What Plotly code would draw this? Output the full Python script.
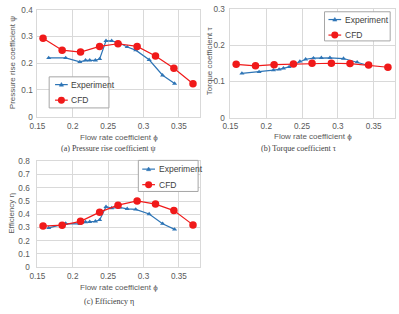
import plotly.graph_objects as go

# ---------------- data ----------------
phi_exp = [0.166, 0.190, 0.210, 0.218, 0.224, 0.232, 0.238, 0.247, 0.255, 0.266,
           0.277, 0.289, 0.308, 0.327, 0.344]
phi_cfd = [0.158, 0.185, 0.211, 0.238, 0.264, 0.291, 0.317, 0.343, 0.370]

psi_exp = [0.220, 0.220, 0.205, 0.211, 0.211, 0.211, 0.216, 0.284, 0.284, 0.276,
           0.261, 0.249, 0.213, 0.155, 0.124]
psi_cfd = [0.294, 0.249, 0.242, 0.263, 0.273, 0.263, 0.227, 0.181, 0.123]

tau_exp = [0.122, 0.126, 0.131, 0.133, 0.136, 0.140, 0.146, 0.155, 0.161, 0.164,
           0.165, 0.165, 0.163, 0.153, 0.143]
tau_cfd = [0.147, 0.143, 0.146, 0.148, 0.150, 0.150, 0.149, 0.145, 0.139]

eta_exp = [0.297, 0.330, 0.327, 0.341, 0.343, 0.347, 0.357, 0.457, 0.447, 0.452,
           0.441, 0.437, 0.402, 0.329, 0.286]
eta_cfd = [0.311, 0.318, 0.347, 0.416, 0.469, 0.501, 0.477, 0.428, 0.320]

series_names = ["Experiment", "CFD"]
x_title = "Flow rate coefficient ϕ"
y_titles = ["Pressure rise coefficient ψ", "Torque coefficient τ", "Efficiency η"]
captions = ["(a) Pressure rise coefficient ψ", "(b) Torque coefficient τ", "(c) Efficiency η"]
y_ranges = [[0, 0.4], [0, 0.3], [0, 0.8]]
x_range = [0.15, 0.38]

# ---------------- styles ----------------
W, H = 399, 314
BLUE = "#2E75B6"
RED = "#F01A1A"
GRID = "#D9D9D9"
TXT = "#595959"
FONT = "Liberation Sans, Arial, sans-serif"


def px(x):
    return x / W


def py(y):
    return 1 - y / H


fig = go.Figure()

panels = [
    dict(xa="x", ya="y", yexp=psi_exp, ycfd=psi_cfd,
         xdom=[px(30), px(196)], ydom=[py(116), py(6)], standoff=2),
    dict(xa="x2", ya="y2", yexp=tau_exp, ycfd=tau_cfd,
         xdom=[px(227), px(395)], ydom=[py(117), py(5)], standoff=3),
    dict(xa="x3", ya="y3", yexp=eta_exp, ycfd=eta_cfd,
         xdom=[px(30), px(196)], ydom=[py(271), py(162)], standoff=5),
]

for p in panels:
    fig.add_trace(go.Scatter(x=phi_exp, y=p["yexp"], xaxis=p["xa"], yaxis=p["ya"],
                             mode="lines+markers", name=series_names[0], showlegend=False,
                             line=dict(color=BLUE, width=1.2),
                             marker=dict(symbol="triangle-up", size=4.5, color=BLUE)))
    fig.add_trace(go.Scatter(x=phi_cfd, y=p["ycfd"], xaxis=p["xa"], yaxis=p["ya"],
                             mode="lines+markers", name=series_names[1], showlegend=False,
                             line=dict(color=RED, width=1.2),
                             marker=dict(symbol="circle", size=7.5, color=RED)))

layout = dict(width=W, height=H, margin=dict(l=0, r=0, t=0, b=0),
              paper_bgcolor="white", plot_bgcolor="white", showlegend=False,
              font=dict(family=FONT, size=8.5, color=TXT))

for i, p in enumerate(panels):
    sx = "" if i == 0 else str(i + 1)
    layout["xaxis" + sx] = dict(domain=p["xdom"], anchor="y" + sx, range=x_range,
                                tick0=0.15, dtick=0.05, showgrid=True, gridcolor=GRID,
                                gridwidth=1, zeroline=False, showline=True, linecolor=GRID,
                                linewidth=1, mirror=True, ticks="", ticklabelstandoff=1,
                                tickfont=dict(size=8.2, color=TXT, family=FONT))
    layout["yaxis" + sx] = dict(domain=p["ydom"], anchor="x" + sx, range=y_ranges[i],
                                dtick=0.1, showgrid=True, gridcolor=GRID, gridwidth=1,
                                zeroline=False, showline=True, linecolor=GRID, linewidth=1,
                                mirror=True, ticks="", ticklabelstandoff=p["standoff"],
                                tickfont=dict(size=8.2, color=TXT, family=FONT))
fig.update_layout(**layout)

ann = []
# axis titles
xt_pos = [(113, 137.5), (311, 136), (113, 291.5)]
yt_pos = [(4, 60), (205, 58), (4, 215)]
for i in range(3):
    ann.append(dict(text=x_title, x=px(xt_pos[i][0]), y=py(xt_pos[i][1]), xref="paper",
                    yref="paper", xanchor="center", yanchor="middle", showarrow=False,
                    font=dict(size=8, color=TXT, family=FONT)))
    ann.append(dict(text=y_titles[i], x=px(yt_pos[i][0]), y=py(yt_pos[i][1]), xref="paper",
                    yref="paper", xanchor="center", yanchor="middle", showarrow=False,
                    textangle=-90, font=dict(size=8, color=TXT, family=FONT)))
# captions
cap_pos = [(103, 149), (297, 149), (103, 306)]
for i in range(3):
    ann.append(dict(text=captions[i], x=px(cap_pos[i][0]), y=py(cap_pos[i][1]), xref="paper",
                    yref="paper", xanchor="center", yanchor="middle", showarrow=False,
                    font=dict(size=8, color="#404040",
                              family="Liberation Serif, Times New Roman, serif")))

shapes = []
# legends: box (x0,y0,x1,y1), row ys, line x0,x1, text x
legends = [
    dict(box=(42, 75, 103, 107), rows=(83, 99), lx=(48, 61), tx=62),
    dict(box=(323, 8, 390, 38), rows=(16, 32), lx=(327, 340), tx=342),
    dict(box=(133, 161, 194, 193), rows=(170, 186), lx=(137, 150), tx=152),
]
for lg in legends:
    x0, y0, x1, y1 = lg["box"]
    shapes.append(dict(type="rect", xref="paper", yref="paper", x0=px(x0), x1=px(x1),
                       y0=py(y1), y1=py(y0), line=dict(color="#A6A6A6", width=1),
                       fillcolor="white", layer="above"))
    la, lb = lg["lx"]
    cx = (la + lb) / 2
    for j, (ry, col) in enumerate(zip(lg["rows"], [BLUE, RED])):
        shapes.append(dict(type="line", xref="paper", yref="paper", x0=px(la), x1=px(lb),
                           y0=py(ry), y1=py(ry), line=dict(color=col, width=1.2),
                           layer="above"))
        if j == 0:
            path = "M %f,%f L %f,%f L %f,%f Z" % (px(cx - 2.2), py(ry + 1.6),
                                                  px(cx + 2.2), py(ry + 1.6),
                                                  px(cx), py(ry - 2.2))
            shapes.append(dict(type="path", xref="paper", yref="paper", path=path,
                               fillcolor=col, line=dict(color=col, width=0.5),
                               layer="above"))
        else:
            shapes.append(dict(type="circle", xref="paper", yref="paper",
                               x0=px(cx - 3.6), x1=px(cx + 3.6), y0=py(ry + 3.6),
                               y1=py(ry - 3.6), fillcolor=col, line=dict(color=col, width=0),
                               layer="above"))
        ann.append(dict(text=series_names[j], x=px(lg["tx"]), y=py(ry), xref="paper",
                        yref="paper", xanchor="left", yanchor="middle", showarrow=False,
                        font=dict(size=8.5, color="#404040", family=FONT)))

fig.update_layout(annotations=ann, shapes=shapes)
fig.write_html("out.html")
